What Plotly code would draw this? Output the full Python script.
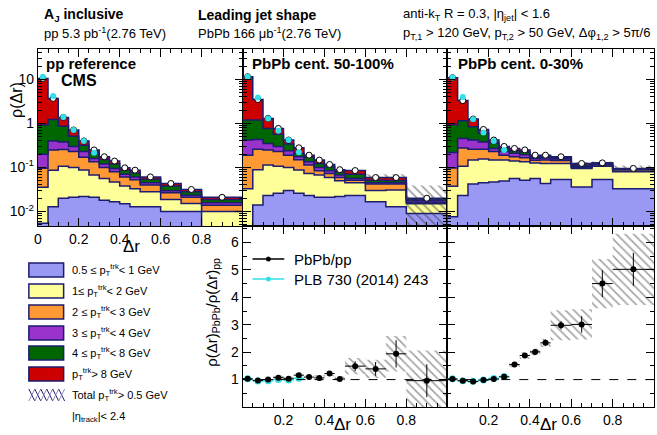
import numpy as np
import plotly.graph_objects as go

W, H = 657, 435

# ---------------- data ----------------
edges = [0, 0.05, 0.1, 0.15, 0.2, 0.25, 0.3, 0.35, 0.4, 0.45, 0.5, 0.6, 0.7, 0.8, 1.0]

pp_blue   = [0.0054, 0.0128, 0.020, 0.021, 0.022, 0.021, 0.018, 0.0166, 0.015, 0.0128, 0.0128, 0.010, 0.010, 0.003]
pp_yellow = [0.030, 0.074, 0.087, 0.079, 0.065, 0.046, 0.038, 0.030, 0.023, 0.020, 0.0152, 0.0087, 0.0052, 0.007]
pp_orange = [0.060, 0.163, 0.15, 0.13, 0.083, 0.068, 0.044, 0.033, 0.023, 0.020, 0.012, 0.008, 0.0058, 0.0039]
pp_purple = [0.105, 0.15, 0.12, 0.07, 0.06, 0.025, 0.02, 0.015, 0.009, 0.008, 0.005, 0.003, 0.0024, 0.0019]
pp_green  = [0.72, 0.83, 0.49, 0.21, 0.09, 0.055, 0.032, 0.025, 0.017, 0.015, 0.009, 0.008, 0.0046, 0.0029]
pp_red    = [9.6, 2.47, 0.50, 0.20, 0.08, 0.035, 0.023, 0.02, 0.011, 0.011, 0.007, 0.0055, 0.0036, 0.0023]
pp_plb    = [11.5, 4.2, 1.4, 0.71, 0.40, 0.215]
pp_sys    = [0, 0, 0, 0, 0, 0, 0, 0, 0, 0, 0, 0, 0, 0]

mid_blue   = [0.003, 0.014, 0.023, 0.026, 0.030, 0.026, 0.023, 0.021, 0.021, 0.022, 0.023, 0.0166, 0.0128, 0.009]
mid_yellow = [0.030, 0.075, 0.09, 0.081, 0.07, 0.061, 0.050, 0.046, 0.038, 0.028, 0.022, 0.0134, 0.018, 0.006]
mid_orange = [0.157, 0.17, 0.137, 0.123, 0.09, 0.063, 0.04, 0.017, 0.014, 0.009, 0.006, 0.012, 0.011, 0.0012]
mid_purple = [0.23, 0.17, 0.10, 0.07, 0.05, 0.025, 0.022, 0.016, 0.011, 0.008, 0.005, 0.003, 0.003, 0.0015]
mid_green  = [0.77, 0.76, 0.42, 0.27, 0.10, 0.035, 0.035, 0.023, 0.02, 0.012, 0.014, 0.006, 0.006, 0.0015]
mid_red    = [10.3, 2.3, 0.53, 0.20, 0.08, 0.07, 0.02, 0.024, 0.013, 0.01, 0.015, 0.008, 0.008, 0.0008]
mid_plb    = [11.5, 3.9, 1.3, 0.68, 0.42, 0.22]
mid_sys    = [0, 0, 0, 0, 0, 0, 0, 0, 0, 0, 0, 0.011, 0.011, 0.019]

cen_blue   = [0.0076, 0.023, 0.042, 0.045, 0.047, 0.049, 0.056, 0.051, 0.056, 0.043, 0.053, 0.036, 0.053, 0.033]
cen_yellow = [0.03, 0.084, 0.105, 0.11, 0.10, 0.098, 0.084, 0.084, 0.07, 0.08, 0.07, 0.059, 0.054, 0.047]
cen_orange = [0.06, 0.17, 0.113, 0.105, 0.083, 0.043, 0.035, 0.03, 0.02, 0.025, 0.02, 0.006, 0.006, 0.008]
cen_purple = [0.12, 0.18, 0.16, 0.12, 0.04, 0.04, 0.035, 0.03, 0.015, 0.015, 0.012, 0.004, 0.004, 0.003]
cen_green  = [0.7, 0.69, 0.42, 0.22, 0.09, 0.04, 0.03, 0.03, 0.015, 0.015, 0.01, 0.008, 0.006, 0.002]
cen_red    = [10.0, 2.15, 0.42, 0.13, 0.06, 0.03, 0.03, 0.025, 0.014, 0.012, 0.01, 0.01, 0.004, 0.002]
cen_plb    = [11.0, 4.0, 1.25, 0.62, 0.40, 0.25]
cen_sys    = [0, 0, 0, 0, 0, 0, 0, 0, 0, 0, 0, 0.01, 0.01, 0.016]

ratio_mid      = [1.03, 0.97, 1.0, 1.07, 1.03, 1.16, 1.09, 1.06, 1.22, 1.02, 1.49, 1.39, 1.94, 0.96]
ratio_mid_stat = [0.03, 0.03, 0.03, 0.04, 0.04, 0.05, 0.05, 0.06, 0.08, 0.08, 0.18, 0.25, 0.5, 0.6]
ratio_mid_sys  = [0.06, 0.06, 0.06, 0.07, 0.07, 0.08, 0.08, 0.1, 0.1, 0.1, 0.3, 0.33, 0.65, 1.1]
ratio_mid_plb  = [1.03, 0.95, 0.96, 1.0, 0.98, 1.05]

ratio_cen      = [1.02, 0.96, 0.93, 0.98, 1.02, 1.10, 1.55, 1.88, 2.01, 2.34, 2.98, 3.01, 4.5, 5.02]
ratio_cen_stat = [0.02, 0.02, 0.03, 0.03, 0.04, 0.05, 0.07, 0.08, 0.09, 0.12, 0.15, 0.3, 0.49, 0.6]
ratio_cen_sys  = [0.05, 0.05, 0.05, 0.05, 0.06, 0.07, 0.1, 0.12, 0.12, 0.15, 0.55, 0.55, 0.9, 1.3]
ratio_cen_plb  = [1.03, 0.96, 0.94, 0.98, 1.04, 1.11]

legend_labels = [
    "0.5 ≤ p<sub>T</sub><sup>trk</sup>< 1 GeV",
    "1≤ p<sub>T</sub><sup>trk</sup>< 2 GeV",
    "2 ≤ p<sub>T</sub><sup>trk</sup>< 3 GeV",
    "3 ≤ p<sub>T</sub><sup>trk</sup>< 4 GeV",
    "4 ≤ p<sub>T</sub><sup>trk</sup>< 8 GeV",
    "p<sub>T</sub><sup>trk</sup>> 8 GeV",
]

# ---------------- style ----------------
FONT = "Liberation Sans, Arial, sans-serif"
colors = ["#9999f5", "#ffff99", "#ff9933", "#9933cc", "#006600", "#cc0000"]
NAVY = "#1c1c70"
CYAN = "#33e0e8"

e = np.array(edges)
centers = (e[:-1] + e[1:]) / 2
halfw = (e[1:] - e[:-1]) / 2

def px(x):
    return x / W

def py(y):
    return 1 - y / H

fig = go.Figure()

def hatch(lo, hi, xa, ya, color):
    xs, ys = [], []
    for i in range(len(lo)):
        if hi[i] - lo[i] <= 0:
            continue
        a, b = edges[i], edges[i + 1]
        xs += [a, b, b, a, a, None]
        ys += [lo[i], lo[i], hi[i], hi[i], lo[i], None]
    if not xs:
        return
    fig.add_trace(go.Scatter(x=xs, y=ys, mode="lines", line=dict(width=0), fill="toself",
                             fillcolor="rgba(0,0,0,0)",
                             fillpattern=dict(shape="\\", fgcolor=color, bgcolor="rgba(0,0,0,0)",
                                              size=6, solidity=0.28),
                             xaxis=xa, yaxis=ya, showlegend=False, hoverinfo="skip"))

def add_stack(comps, plb, sys, xa, ya):
    n = len(comps[0])
    base = np.full(n, 1e-5)
    fig.add_trace(go.Scatter(x=edges, y=np.append(base, base[-1]), mode="lines",
                             line=dict(width=0), line_shape="hv", xaxis=xa, yaxis=ya,
                             showlegend=False, hoverinfo="skip"))
    cum = np.zeros(n)
    for vals, col in zip(comps, colors):
        cum = cum + np.array(vals)
        fig.add_trace(go.Scatter(x=edges, y=np.append(cum, cum[-1]), mode="lines",
                                 line=dict(color=NAVY, width=1.5), line_shape="hv",
                                 fill="tonexty", fillcolor=col, xaxis=xa, yaxis=ya,
                                 showlegend=False, hoverinfo="skip"))
    s = np.array(sys)
    hatch(np.maximum(cum - s, 1e-4), cum + s, xa, ya, "#3a3a3a")
    fig.add_trace(go.Scatter(x=centers, y=cum, mode="markers",
                             marker=dict(color="white", size=6, line=dict(color="black", width=1)),
                             error_y=dict(type="data", array=cum * 0.03, color="black", thickness=1, width=0),
                             xaxis=xa, yaxis=ya, showlegend=False))
    fig.add_trace(go.Scatter(x=centers[:len(plb)], y=plb, mode="markers",
                             marker=dict(color=CYAN, size=6, line=dict(width=0)),
                             xaxis=xa, yaxis=ya, showlegend=False))

add_stack([pp_blue, pp_yellow, pp_orange, pp_purple, pp_green, pp_red], pp_plb, pp_sys, "x", "y")
add_stack([mid_blue, mid_yellow, mid_orange, mid_purple, mid_green, mid_red], mid_plb, mid_sys, "x2", "y2")
add_stack([cen_blue, cen_yellow, cen_orange, cen_purple, cen_green, cen_red], cen_plb, cen_sys, "x3", "y3")

def add_ratio(r, stat, sys, plb, xa, ya):
    r = np.array(r); s = np.array(sys)
    hatch(r - s, r + s, xa, ya, "#4a4a4a")
    fig.add_trace(go.Scatter(x=centers[:len(plb)], y=plb, mode="markers",
                             marker=dict(color=CYAN, size=7),
                             error_x=dict(type="data", array=halfw[:len(plb)], color=CYAN, thickness=1.5, width=0),
                             xaxis=xa, yaxis=ya, showlegend=False))
    fig.add_trace(go.Scatter(x=centers, y=r, mode="markers",
                             marker=dict(color="black", size=6),
                             error_x=dict(type="data", array=halfw, color="black", thickness=1, width=0),
                             error_y=dict(type="data", array=stat, color="black", thickness=1, width=0),
                             xaxis=xa, yaxis=ya, showlegend=False))

add_ratio(ratio_mid, ratio_mid_stat, ratio_mid_sys, ratio_mid_plb, "x4", "y4")
add_ratio(ratio_cen, ratio_cen_stat, ratio_cen_sys, ratio_cen_plb, "x5", "y5")

# ---------------- axes ----------------
L, M1, M2, R = 34, 240, 446, 654
TOP, MID, BOT = 49, 226, 407
tickfont = dict(family=FONT, size=14, color="black")

def xax(dom, labels, vals, anchor):
    return dict(domain=[px(dom[0]), px(dom[1])], range=[0, 1], anchor=anchor,
                showline=True, linecolor="black", linewidth=1, mirror="allticks",
                ticks="inside", ticklen=8, tickcolor="black",
                tickvals=vals, showticklabels=labels, tickfont=tickfont,
                minor=dict(ticks="inside", ticklen=4, dtick=0.05, tickcolor="black"),
                showgrid=False, zeroline=False, fixedrange=True)

def ylog(anchor, labels):
    return dict(domain=[py(MID), py(TOP)], type="log", range=[-2.33, 1.69], anchor=anchor,
                showline=True, linecolor="black", linewidth=1, mirror="allticks",
                ticks="inside", ticklen=8, tickcolor="black",
                tickvals=[0.01, 0.1, 1, 10],
                ticktext=["10<sup>-2</sup>", "10<sup>-1</sup>", "1", "10"],
                showticklabels=labels, tickfont=tickfont,
                minor=dict(ticks="inside", ticklen=4, dtick="D1", tickcolor="black"),
                showgrid=False, zeroline=False)

def ylin(anchor, labels):
    return dict(domain=[py(BOT), py(MID)], range=[0, 6.6], anchor=anchor,
                showline=True, linecolor="black", linewidth=1, mirror="allticks",
                ticks="inside", ticklen=8, tickcolor="black",
                tickvals=[1, 2, 3, 4, 5, 6], showticklabels=labels, tickfont=tickfont,
                minor=dict(ticks="inside", ticklen=4, dtick=0.5, tickcolor="black"),
                showgrid=False, zeroline=False)

fig.update_layout(
    width=W, height=H, margin=dict(l=0, r=0, t=0, b=0),
    paper_bgcolor="white", plot_bgcolor="white",
    font=dict(family=FONT, color="black"),
    xaxis=xax((L, M1), True, [0, 0.2, 0.4, 0.6, 0.8], "y"),
    xaxis2=xax((M1, M2), False, [0, 0.2, 0.4, 0.6, 0.8], "y2"),
    xaxis3=xax((M2, R), False, [0, 0.2, 0.4, 0.6, 0.8], "y3"),
    xaxis4=xax((M1, M2), True, [0.2, 0.4, 0.6, 0.8], "y4"),
    xaxis5=xax((M2, R), True, [0.2, 0.4, 0.6, 0.8], "y5"),
    yaxis=ylog("x", True),
    yaxis2=ylog("x2", False),
    yaxis3=ylog("x3", False),
    yaxis4=ylin("x4", True),
    yaxis5=ylin("x5", False),
)

shapes = []
for xa, ya in (("x4", "y4"), ("x5", "y5")):
    shapes.append(dict(type="line", xref=xa, yref=ya, x0=0, x1=1, y0=1, y1=1,
                       line=dict(color="black", width=1, dash="dash")))

ann = []
def text(x, y, s, size=13, bold=False, anchor="left", angle=0):
    if bold:
        s = "<b>" + s + "</b>"
    ann.append(dict(x=px(x), y=py(y), xref="paper", yref="paper", text=s, showarrow=False,
                    xanchor=anchor, yanchor="middle", textangle=angle,
                    font=dict(family=FONT, size=size, color="black")))

text(38, 15, "A<sub>J</sub> inclusive", 14, True)
text(38, 33, "pp 5.3 pb<sup>-1</sup>(2.76 TeV)", 13)
text(193, 15, "Leading jet shape", 14, True)
text(193, 33, "PbPb 166 μb<sup>-1</sup>(2.76 TeV)", 13)
text(399, 15, "anti-k<sub>T</sub> R = 0.3, |η<sub>jet</sub>| < 1.6", 13)
text(399, 33, "p<sub>T,1</sub> > 120 GeV, p<sub>T,2</sub> > 50 GeV, Δφ<sub>1,2</sub> > 5π/6", 13)
text(40, 63, "pp reference", 15, True)
text(55, 80, "CMS", 16, True)
text(248, 63, "PbPb cent. 50-100%", 15, True)
text(455, 63, "PbPb cent. 0-30%", 15, True)
text(13, 100, "ρ(Δr)", 16, anchor="center", angle=-90)
text(209, 312, "ρ(Δr)<sub>PbPb</sub>/ρ(Δr)<sub>pp</sub>", 15, anchor="center", angle=-90)
text(128, 246, "Δr", 17, anchor="center")
text(341, 424, "Δr", 17, anchor="center")
text(548, 424, "Δr", 17, anchor="center")

# ratio legend (drawn)
for yy, col, lab in ((259, "black", "PbPb/pp"), (279, CYAN, "PLB 730 (2014) 243")):
    shapes.append(dict(type="line", xref="paper", yref="paper", x0=px(250), x1=px(282),
                       y0=py(yy), y1=py(yy), line=dict(color=col, width=1.5)))
    shapes.append(dict(type="circle", xref="paper", yref="paper", x0=px(263.5), x1=px(268.5),
                       y0=py(yy + 2.5), y1=py(yy - 2.5), fillcolor=col, line=dict(color=col, width=0)))
    text(290, yy, lab, 15)

# track-pT legend (drawn)
rows = [270, 291, 312, 333, 353, 374]
for yy, col, lab in zip(rows, colors, legend_labels):
    shapes.append(dict(type="rect", xref="paper", yref="paper", x0=px(25), x1=px(60),
                       y0=py(yy + 7), y1=py(yy - 7), fillcolor=col, line=dict(color=NAVY, width=1.5)))
    text(66, yy, lab, 11)
for k in range(6):
    x0 = 25 + 6 * k
    shapes.append(dict(type="line", xref="paper", yref="paper", x0=px(x0), x1=px(x0 + 6),
                       y0=py(389), y1=py(401), line=dict(color=NAVY, width=1)))
    shapes.append(dict(type="line", xref="paper", yref="paper", x0=px(x0), x1=px(x0 + 6),
                       y0=py(401), y1=py(389), line=dict(color="#8888bb", width=1)))
text(66, 395, "Total p<sub>T</sub><sup>trk</sup>> 0.5 GeV", 11)
text(66, 417, "|η<sub>track</sub>|< 2.4", 11)

fig.update_layout(shapes=shapes, annotations=ann)
fig.write_html("out.html", config={"displayModeBar": False},
               post_script="document.body.style.margin='0';document.body.style.padding='0';")
